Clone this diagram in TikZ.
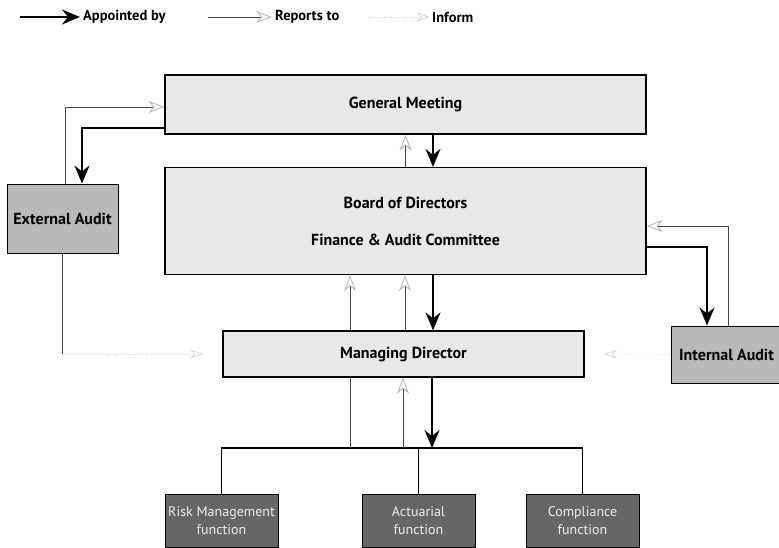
\documentclass[tikz,border=0pt]{standalone}
\usepackage{fontspec}
\setmainfont{PT Sans}
\usetikzlibrary{arrows.meta, positioning}

\begin{document}
\begin{tikzpicture}[x=1pt, y=-1pt, font=\fontsize{16}{19}\selectfont\bfseries,
  body/.style={draw=black, line width=1.2pt, fill=gray!18, inner sep=0pt},
  audit/.style={draw=black, line width=1pt, fill=gray!55, inner sep=0pt,
                minimum width=111pt, minimum height=69pt},
  func/.style={draw=black, line width=1pt, fill=gray!80!black, text=white!85!gray,
               font=\fontsize{14}{18}\selectfont, align=center, inner sep=0pt,
               minimum width=113pt, minimum height=53pt},
  appt/.style={-{Stealth[length=18pt, width=15pt, inset=6pt]}, line width=2pt, black},
  rep/.style={-{Stealth[open, length=16pt, width=12pt, inset=5pt, gray!55]}, line width=0.9pt, gray!55!black},
  repline/.style={line width=0.9pt, gray!55!black},
  inf/.style={-{Stealth[open, length=12pt, width=9pt]}, line width=0.6pt, gray!35, dotted},
  key/.style={anchor=west, inner sep=3pt, font=\fontsize{14.5}{17}\selectfont\bfseries}
]
\useasboundingbox (0,0) rectangle (779,547);

% legend
\coordinate (ka) at (20,17);
\node[key] (kat) at (80,17) {Appointed by};
\draw[appt] (ka) -- (kat.west);
\coordinate (kr) at (208,17);
\node[key] (krt) at (272,17) {Reports to};
\draw[rep] (kr) -- (krt.west);
\coordinate (ki) at (368,17);
\node[key] (kit) at (429,17) {Inform};
\draw[inf] (ki) -- (kit.west);

% boxes
\node[body, minimum width=481pt, minimum height=59pt] (gm) at (405.5,104.5) {General Meeting};
\node[body, minimum width=481pt, minimum height=107pt, align=center] (bd) at (405.5,221)
  {Board of Directors\\[18pt]Finance \& Audit Committee};
\node[body, minimum width=361pt, minimum height=46pt] (md) at (403.5,354) {Managing Director};
\node[audit] (ea) at (62.5,218.5) {External Audit};
\node[audit, minimum height=57pt] (ia) at (726.5,354.5) {Internal Audit};

\node[func] (risk) at (221.5,520.5) {Risk Management\\function};
\node[func] (act)  at (418.5,520.5) {Actuarial\\function};
\node[func] (comp) at (582.5,520.5) {Compliance\\function};

% general meeting -- external audit
\draw[appt] ([yshift=7pt]gm.south west) -| ([xshift=19.5pt]ea.north);
\draw[rep] ([xshift=2.5pt]ea.north) |- ([yshift=-2.5pt]gm.west);
\coordinate (eb) at (ea.south |- md.west);
\draw[repline] (ea.south) -- (eb);
\draw[inf, shorten >=20pt] (eb) -- (md.west);

% general meeting -- board
\draw[rep] (bd.north) -- (gm.south);
\draw[appt] ([xshift=27.5pt]gm.south) -- ([xshift=27.5pt]bd.north);

% board -- internal audit
\draw[appt] ([yshift=-26pt]bd.east) -| ([xshift=-19.5pt]ia.north);
\draw[rep] ([xshift=1.5pt]ia.north) |- ([yshift=-5pt]bd.east);
\draw[inf, shorten >=20pt] (ia.west) -- (md.east);

% board -- managing director
\foreach \dx in {-53.5,1.5}
  \draw[rep] ([xshift=\dx pt]md.north) -- ([xshift=\dx pt]md.north |- bd.south);
\draw[appt] ([xshift=27.5pt]bd.south) -- ([xshift=27.5pt]bd.south |- md.north);

% managing director -- functions
\coordinate (bus) at (403.5,448);
\draw[line width=1.3pt] (risk.north) |- (bus) -| (comp.north);
\draw[line width=1.3pt] (act.north) -- (act.north |- bus);
\draw[repline] ([xshift=-53.5pt]md.south) -- ([xshift=-53.5pt]md.south |- bus);
\draw[rep] ([xshift=-0.5pt]md.south |- bus) -- ([xshift=-0.5pt]md.south);
\draw[appt] ([xshift=28.5pt]md.south) -- ([xshift=28.5pt]md.south |- bus);
\end{tikzpicture}
\end{document}
